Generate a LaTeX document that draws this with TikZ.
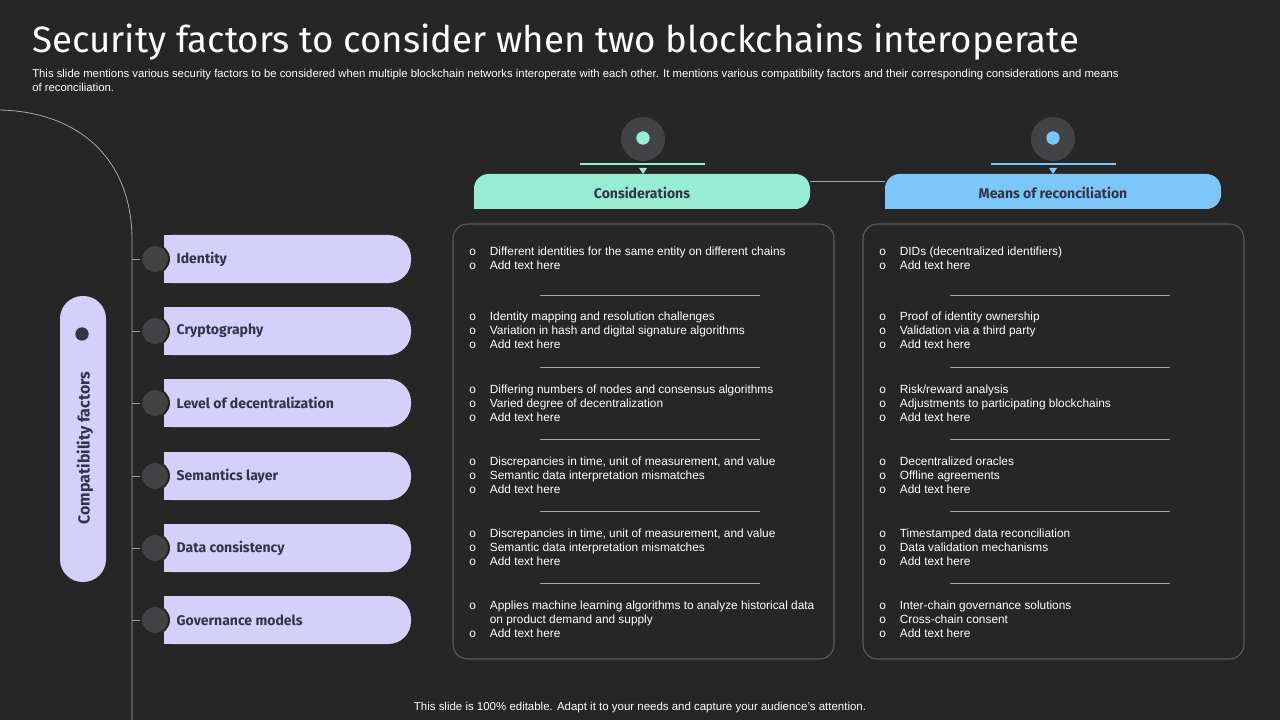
\documentclass[tikz,border=0pt]{standalone}
\usepackage{fontspec}
\setmainfont{Liberation Sans}
\newfontfamily\hfont{Fira Sans}
\begin{document}
\begin{tikzpicture}[x=0.75pt,y=-0.75pt,
  ic/.style={circle,fill=icc,draw=bgc,line width=1.5pt,minimum size=28*0.75pt,inner sep=0},
  bigic/.style={circle,fill=icc,minimum size=44*0.75pt,inner sep=0},
  rowtxt/.style={anchor=west,font=\hfont\bfseries\fontsize{10.5}{12}\selectfont,text=txtd},
  btxt/.style={anchor=north west,align=left,text=white,font=\fontsize{8.9}{10.5}\selectfont,inner sep=0},
  sep/.style={line width=0.6pt,draw=gray!70},
  panel/.style={draw=gray!60!bgc,line width=0.8pt,rounded corners=11pt}]
\definecolor{bgc}{HTML}{262626}
\definecolor{lav}{HTML}{D4D0FA}
\definecolor{icc}{HTML}{434345}
\definecolor{txtd}{HTML}{33334A}
\definecolor{mint}{HTML}{96EDD4}
\definecolor{sky}{HTML}{7DC6FA}
\fill[bgc] (0,0) rectangle (1280,720);
\useasboundingbox (0,0) rectangle (1280,720);
\node[anchor=west,text=white,font=\hfont\fontsize{27.5}{30}\selectfont,inner sep=0] (title) at (32,42) {Security factors to consider when two blockchains interoperate};
\node[anchor=north west,text=white,align=left,font=\fontsize{8.5}{10.5}\selectfont,inner sep=0] (sub) at (32,69) {This slide mentions various security factors to be considered when multiple blockchain networks interoperate with each other. It mentions various compatibility factors and their corresponding considerations and means\\of reconciliation.};
% left arc
\draw[gray!70,line width=0.6pt] (0,110) .. controls (80,112) and (132,160) .. (132,240) -- (132,720);
% vertical pill
\fill[lav,rounded corners=17pt] (60,296) rectangle (106,582);
\node[rotate=90,font=\hfont\bfseries\fontsize{12}{14}\selectfont,text=txtd] (cf) at (85,448) {Compatibility factors};
\node[circle,fill=txtd,minimum size=10pt,inner sep=0] (cfi) at (82,334) {};
% rows
\foreach \y/\t/\n in {259/Identity/r1,331/Cryptography/r2,403/Level of decentralization/r3,476/Semantics layer/r4,548/Data consistency/r5,620/Governance models/r6}{
  \fill[lav,rounded corners=17pt] (150,\y-24) rectangle (411,\y+24);
  \fill[lav] (150,\y-24) rectangle (200,\y+24);
  \fill[bgc] (133,\y-25) rectangle (164,\y+25);
  \draw[gray!70,line width=0.6pt] (132,\y) -- (145,\y);
  \node[ic] (\n) at (155,\y) {};
  \node[rowtxt] at (172,\y) {\t};
}
% headers
\node[bigic] (i1) at (643,139) {};
\node[bigic] (i2) at (1053,139) {};
\node[circle,fill=mint,minimum size=10pt,inner sep=0] at (643,138) {};
\node[circle,fill=sky,minimum size=10pt,inner sep=0] at (1053,138) {};
\draw[gray!70,line width=0.6pt] (810,181) -- (885,181);
\draw[mint,line width=1.5pt] (580,164) -- (705,164);
\draw[sky,line width=1.5pt] (991,164) -- (1116,164);
\fill[mint] (639,168) -- (647,168) -- (643,174) -- cycle;
\fill[sky] (1049,168) -- (1057,168) -- (1053,174) -- cycle;
\fill[mint,rounded corners=11pt] (474,209) -- (474,174) -- (810,174) -- (810,209) [sharp corners] -- cycle;
\fill[sky,rounded corners=11pt] (885,209) -- (885,174) -- (1221,174) -- (1221,209) [sharp corners] -- cycle;
\node[font=\hfont\bfseries\fontsize{10.5}{12}\selectfont,text=txtd] (h1) at (642,193) {Considerations};
\node[font=\hfont\bfseries\fontsize{10.5}{12}\selectfont,text=txtd] (h2) at (1053,193) {Means of reconciliation};
\draw[panel] (453,224) rectangle (834,659);
\draw[panel] (863,224) rectangle (1244,659);
\foreach \s in {295,367,439,511,583}{
  \draw[sep] (540,\s) -- (760,\s);
  \draw[sep] (950,\s) -- (1170,\s);
}
\newcommand\blist[3]{\node[btxt] at (#1,#2) {\begin{tabular}{@{}l@{\hspace{10.5pt}}l@{}}#3\end{tabular}};}
\blist{469}{245}{o&Different identities for the same entity on different chains\\o&Add text here}
\blist{469}{310}{o&Identity mapping and resolution challenges\\o&Variation in hash and digital signature algorithms\\o&Add text here}
\blist{469}{383}{o&Differing numbers of nodes and consensus algorithms\\o&Varied degree of decentralization\\o&Add text here}
\blist{469}{455}{o&Discrepancies in time, unit of measurement, and value\\o&Semantic data interpretation mismatches\\o&Add text here}
\blist{469}{527}{o&Discrepancies in time, unit of measurement, and value\\o&Semantic data interpretation mismatches\\o&Add text here}
\blist{469}{599}{o&Applies machine learning algorithms to analyze historical data\\&on product demand and supply\\o&Add text here}
\blist{879}{245}{o&DIDs (decentralized identifiers)\\o&Add text here}
\blist{879}{310}{o&Proof of identity ownership\\o&Validation via a third party\\o&Add text here}
\blist{879}{383}{o&Risk/reward analysis\\o&Adjustments to participating blockchains\\o&Add text here}
\blist{879}{455}{o&Decentralized oracles\\o&Offline agreements\\o&Add text here}
\blist{879}{527}{o&Timestamped data reconciliation\\o&Data validation mechanisms\\o&Add text here}
\blist{879}{599}{o&Inter-chain governance solutions\\o&Cross-chain consent\\o&Add text here}
\node[text=white,font=\fontsize{8.6}{10}\selectfont] (foot) at (640,708) {This slide is 100\% editable. Adapt it to your needs and capture your audience's attention.};
\end{tikzpicture}
\end{document}
